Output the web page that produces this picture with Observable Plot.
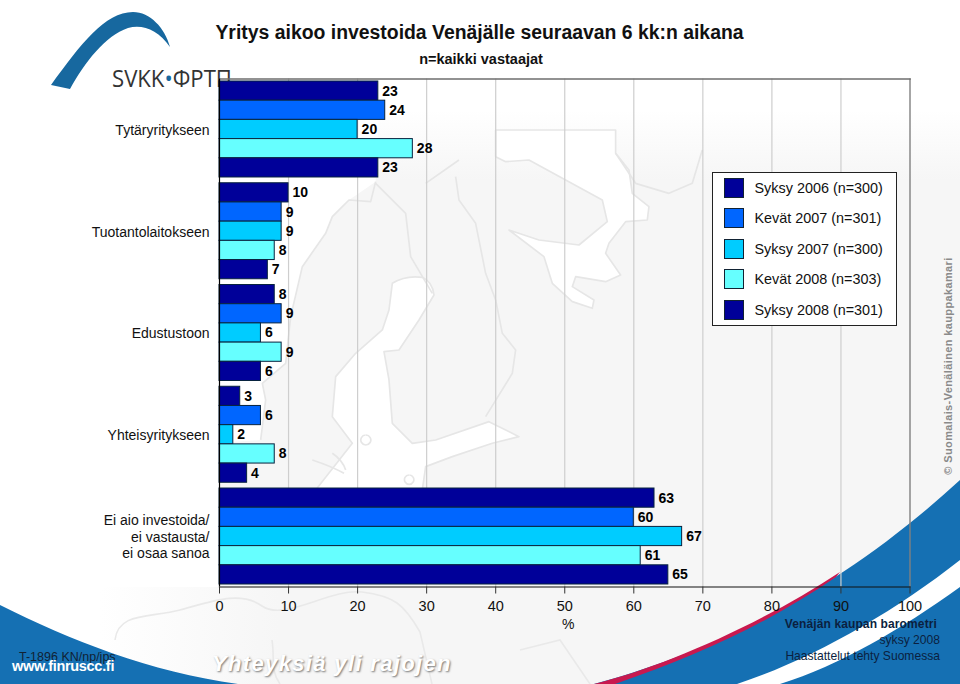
<!DOCTYPE html>
<html lang="fi">
<head>
<meta charset="utf-8">
<title>Yritys aikoo investoida Venäjälle</title>
<script src="https://cdn.jsdelivr.net/npm/d3@7"></script>
<script src="https://cdn.jsdelivr.net/npm/@observablehq/plot@0.6"></script>
<style>
  html, body { margin: 0; padding: 0; background: #fff; }
  body { width: 960px; height: 684px; overflow: hidden; position: relative; font-family: "Liberation Sans", Arial, sans-serif; color: #000; }
  #backdrop, #chart, #chart svg { position: absolute; left: 0; top: 0; }
  #chart { width: 960px; height: 684px; }
  .t { position: absolute; white-space: nowrap; }
  #legend { position: absolute; left: 712px; top: 172px; width: 183px; height: 152px; background: #fff; border: 1.5px solid #222; box-sizing: content-box; }
  #legend .row { position: absolute; left: 10.5px; height: 19px; display: flex; align-items: center; font-size: 14.4px; white-space: nowrap; color: #111; }
  #legend .sw { width: 18px; height: 18px; border: 1px solid #123; margin-right: 11px; box-sizing: content-box; flex: none; }
</style>
</head>
<body>
<svg id="backdrop" width="960" height="684" viewBox="0 0 960 684">
  <defs>
    <linearGradient id="fade" x1="0" y1="0" x2="0" y2="1">
      <stop offset="0" stop-color="#ffffff"/><stop offset="1" stop-color="#f6f6f6"/>
    </linearGradient>
    <linearGradient id="fadeLeft" x1="0" y1="0" x2="1" y2="0">
      <stop offset="0" stop-color="#ffffff"/><stop offset="1" stop-color="#f6f6f6"/>
    </linearGradient>
  </defs>
  <rect x="219" y="110" width="741" height="70" fill="url(#fade)"/>
  <rect x="219" y="180" width="741" height="504" fill="#f6f6f6"/>
  <rect x="100" y="587" width="180" height="97" fill="url(#fadeLeft)"/>
  <g transform="translate(219,150) scale(.3333)" fill="#fff" stroke="#e6e6e6" stroke-width="5" stroke-linejoin="round">
    <path stroke="none" d="M-10,-120 L480,-120 L470,95 L390,150 L340,200 L320,250 L250,350 L215,500 L200,640 L130,700 L140,750 L125,870 L-10,880 Z"/>
    <path d="M470,95 L455,155 L390,150 L340,200 L320,250 L250,350 L215,500 L200,640 L130,700 L140,750 L125,870" fill="none"/>
    <path d="M520,400 Q560,375 610,382 Q640,395 645,435 L600,510 L540,600 L495,605 L510,690 L520,820 L580,880 L650,870 L810,815 L900,860 L820,880 L700,920 L620,950 L610,1020 L290,1020 L400,880 L340,800 L350,680 L410,610 L490,540 L510,480 Z"/>
    <path stroke="none" d="M830,-60 L1190,-60 L1190,10 L830,20 Z"/>
    <path d="M830,20 L860,35 L930,30 L1040,90 L1150,150 L1165,215 L1080,285 L960,270 L870,240 L975,320 L1000,400 L1060,455 L1120,475 L1125,450 L1060,410 L1070,380 L1160,395 L1205,375 L1160,310 L1170,280 L1220,215 L1285,210 L1290,170 L1240,130 L1230,60 L1190,10 L1190,-60 L830,-60 Z"/>
    <path d="M1190,10 L1250,100 L1350,130 L1420,100 L1450,0" fill="none"/>
    <g fill="none">
      <path d="M710,80 L720,150 L770,220 L800,370 L830,450 L850,550 L890,600 L880,670 L800,800"/>
      <path d="M470,100 L560,190 L575,320 L640,430"/>
      <path d="M620,100 L720,30 M440,855 a15,15 0 1,0 1,0 M570,975 a14,14 0 1,0 1,0 M280,930 Q340,950 375,970 M340,910 Q370,930 380,960"/>
    </g>
  </g>
  <path d="M115,640 C118,612 150,618 180,610 S240,590 262,606 S330,588 362,592 S404,604 420,632 L432,684 M272,640 C275,660 270,670 280,684 M520,650 L560,640 L590,684" fill="none" stroke="#e9e9e9" stroke-width="1.6"/>
  <path d="M0,605 C70,640 150,672 238,684 L0,684 Z" fill="#1570b3"/>
  <path d="M594,684 C700,655 830,600 960,480 L960,684 Z" fill="#1570b3"/>
  <path d="M594,684 C660,668 760,625 840,572 L836,577 C770,622 700,655 615,684 Z" fill="#c8194f"/>
  <path d="M737,684 C810,660 890,615 960,560 L960,587 C900,630 840,665 780,684 Z" fill="#fff"/>
  <path d="M51,85 C80,45 105,12 133,12 C150,12 165,28 170,47 C158,30 143,24 128,28 C105,36 85,62 70,89 Z" fill="#17689f"/>
  <text x="112" y="87" font-family="'Open Sans','Liberation Sans',sans-serif" font-size="24" fill="#333" textLength="120" lengthAdjust="spacingAndGlyphs">SVKK<tspan fill="#17689f">•</tspan>ФРТП</text>
</svg>
<div id="chart"></div>
<div class="t" style="left:0;width:959px;text-align:center;top:21px;font-size:19.4px;font-weight:bold;color:#111">Yritys aikoo investoida Venäjälle seuraavan 6 kk:n aikana</div>
<div class="t" style="left:0;width:962px;text-align:center;top:51px;font-size:14.5px;font-weight:bold;color:#111">n=kaikki vastaajat</div>
<div id="legend"></div>
<div class="t" style="left:19px;top:650px;font-size:12.5px;color:#123">T-1896 KN/np/jps</div>
<div class="t" style="left:12px;top:658px;font-size:14.5px;font-weight:bold;color:#fff;letter-spacing:-.3px">www.finruscc.fi</div>
<div class="t" style="left:212px;top:651px;font-size:22px;font-weight:bold;font-style:italic;color:#fff;letter-spacing:1.35px;text-shadow:1px 1px 2px #777">Yhteyksiä yli rajojen</div>
<div class="t" style="right:23px;top:617px;font-size:12px;font-weight:bold;color:#0b1f40;letter-spacing:.12px">Venäjän kaupan barometri</div>
<div class="t" style="right:20px;top:633px;font-size:12.1px;color:#0b1f40">syksy 2008</div>
<div class="t" style="right:20px;top:649px;font-size:12.1px;color:#0b1f40">Haastattelut tehty Suomessa</div>
<div class="t" style="left:948px;top:366px;transform:translate(-50%,-50%) rotate(-90deg);font-size:11px;font-weight:bold;color:#8a8a8a;letter-spacing:.37px">© Suomalais-Venäläinen kauppakamari</div>
<script>
const categories = ["Tytäryritykseen", "Tuotantolaitokseen", "Edustustoon", "Yhteisyritykseen", "Ei aio investoida/\nei vastausta/\nei osaa sanoa"];
const seriesNames = ["Syksy 2006 (n=300)", "Kevät 2007 (n=301)", "Syksy 2007 (n=300)", "Kevät 2008 (n=303)", "Syksy 2008 (n=301)"];
const seriesColors = ["#000099", "#0066ff", "#00ccff", "#66ffff", "#000099"];
const syksy2006 = [23, 10, 8, 3, 63];
const kevat2007 = [24, 9, 9, 6, 60];
const syksy2007 = [20, 9, 6, 2, 67];
const kevat2008 = [28, 8, 9, 8, 61];
const syksy2008 = [23, 7, 6, 4, 65];
const xTicks = [0, 10, 20, 30, 40, 50, 60, 70, 80, 90, 100];

const seriesValues = [syksy2006, kevat2007, syksy2007, kevat2008, syksy2008];
const groupStep = 5.3; // five bar slots plus the gap between groups
const rows = seriesNames.flatMap((s, i) => categories.map((c, j) => ({
  category: c, series: s, value: seriesValues[i][j],
  slot: j * groupStep + i, color: seriesColors[i]
})));
const groups = categories.map((c, j) => ({label: c, mid: j * groupStep + 2.5}));

const chart = Plot.plot({
  width: 960,
  height: 684,
  marginTop: 78.5,
  marginBottom: 97.5,
  marginLeft: 219,
  marginRight: 50.5,
  style: {background: "transparent", fontFamily: "'Liberation Sans', Arial, sans-serif", overflow: "visible"},
  x: {domain: [0, 100], ticks: xTicks},
  y: {domain: [-0.13, 26.33], reverse: true, axis: null},
  marks: [
    Plot.ruleX(xTicks.slice(1, -1), {stroke: "#cecece", strokeWidth: 1.2}),
    Plot.ruleX([100], {stroke: "#808080", strokeWidth: 1.4}),
    Plot.frame({anchor: "top", stroke: "#6e6e6e", strokeWidth: 1.6}),
    Plot.rectX(rows, {x1: () => 0, x2: "value", y1: "slot", y2: d => d.slot + 1, fill: "color", stroke: "#08233f", strokeWidth: 1}),
    Plot.text(rows, {x: "value", y: d => d.slot + 0.5, text: d => String(d.value), textAnchor: "start", dx: 4, fontSize: 14, fontWeight: "bold", fill: "#000"}),
    Plot.text(groups, {x: () => 0, y: "mid", text: "label", textAnchor: "end", dx: -10, fontSize: 14, lineHeight: 1.18, fill: "#111"}),
    Plot.ruleX([0], {stroke: "#000", strokeWidth: 1.2}),
    Plot.frame({anchor: "bottom", stroke: "#111", strokeWidth: 1.2}),
    Plot.axisX({ticks: xTicks, anchor: "bottom", tickSize: 7, tickPadding: 7, fontSize: 14.5, stroke: "#333", fill: "#111", label: null, tickFormat: d => String(d)}),
    Plot.text(["%"], {x: () => 50, frameAnchor: "bottom", dx: 3.5, dy: 42, fontSize: 14, fill: "#111"})
  ]
});
document.getElementById("chart").appendChild(chart);

const legend = document.getElementById("legend");
seriesNames.forEach((name, i) => {
  const row = document.createElement("div");
  row.className = "row";
  row.style.top = (5 + i * 30.5) + "px";
  const sw = document.createElement("span");
  sw.className = "sw";
  sw.style.background = seriesColors[i];
  row.appendChild(sw);
  row.appendChild(document.createTextNode(name));
  legend.appendChild(row);
});
</script>
</body>
</html>
